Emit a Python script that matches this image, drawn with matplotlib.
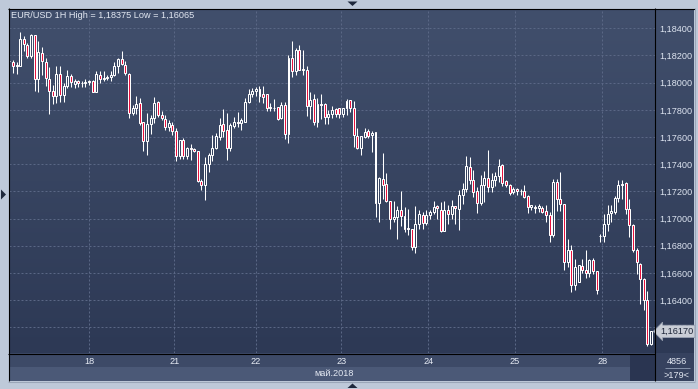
import numpy as np
import matplotlib
matplotlib.use("Agg")
import matplotlib.pyplot as plt
from matplotlib.patches import Rectangle, Polygon
from matplotlib.lines import Line2D
from matplotlib.colors import LinearSegmentedColormap
from matplotlib.ticker import FuncFormatter
import matplotlib.transforms as mtransforms

plt.rcParams["font.family"] = ["Liberation Sans", "DejaVu Sans"]

# EUR/USD hourly candles, 17-28 May 2018, in pips relative to base
base = 1.18
open_pips = [
    15.8, 15.3, 12.5, 12.1, 31.9, 28, 19.5, 34.8, 2.7, 22,
    15.3, 3, -6, -9.6, 6.4, -9, -2.7, 4.7, -1, 1.5,
    -0.5, -0.5, 0.5, 1.5, -6.6, 6, 3, 3.5, 4.2, 6,
    12, 17.3, 13.3, 6.4, -22.5, -18.5, -15, -29, -43, -30.6,
    -25.7, -14.3, -24, -27, -32.3, -31, -35.6, -53.6, -42.2, -53.6,
    -48.4, -49, -50, -72.6, -75.6, -59.5, -53.3, -48.4, -39.8, -30.4,
    -34.8, -48, -31.6, -28.6, -30, -28.6, -14.3, -8.4, -6, -4.7,
    -8.4, -8.4, -18, -18.3, -17.8, -25.7, -16.3, -38, 18.3, 8.4,
    24.4, 9.6, 9.1, -17.5, -11.9, -28.6, -15.8, -15.6, -24.9, -23,
    -19.3, -18.8, -23, -18.8, -12.6, -18.8, -39.3, -47.9, -39.8, -35.6,
    -38.5, -36.5, -88.4, -71, -74.3, -86.7, -100, -99, -94, -97.8,
    -107, -108, -121.2, -104, -97.3, -103, -97.3, -95.3, -90.4, -93.4,
    -109, -93.9, -96.3, -91, -92.6, -82.8, -78.6, -62, -71.8, -79.9,
    -88.5, -75.5, -70, -76.7, -71.3, -68.8, -60.7, -72.5, -75.5, -80.4,
    -78.4, -79.6, -79.6, -83.6, -91.4, -92, -92, -92, -94.6, -97.5,
    -111.8, -73, -85.3, -89.5, -131.9, -123.3, -149, -146.6, -135, -138,
    -140, -130.2, -138.5, -113, -113, -103.7, -95.8, -95.1, -84.5, -75.5,
    -73.7, -92.6, -104.9, -122.8, -133.1, -144.2, -160.1, -192,
]
high_pips = [
    17.5, 16.5, 15, 37.5, 34.3, 29.4, 36, 34.8, 30.6, 26,
    18.3, 11.4, -1.5, 12.6, 12, 0, 9.6, 6.5, 2.7, 2,
    1.5, 3, 1.7, 2, 8.4, 8.4, 8.4, 6, 8.4, 15,
    18.3, 23.2, 16.3, 7, -16.3, -10, -11.4, -29, -22.5, -23.7,
    -10.9, -13.3, -20.7, -23.7, -27.4, -28.6, -33.6, -42.2, -41, -47,
    -45, -48, -50, -70.6, -54.6, -52, -38.5, -37, -26, -19.5,
    -22.5, -30, -25, -21.7, -25.7, -11.4, -4.4, -4, -3, -2.7,
    -2.7, -8.4, -15, -12, -17.8, -14.3, -14.3, 20.7, 31, 25.7,
    27.7, 24.4, 12, -7, -8.4, -11.4, -8.4, -14.6, -20, -17,
    -18.3, -18.3, -18.3, -11.9, -12.6, -13.3, -33.6, -39.3, -33.6, -34,
    -35.6, -36.5, -69.4, -52, -66.4, -86.7, -86.7, -90.4, -80, -91.6,
    -93, -108, -90.4, -94, -95.3, -93.6, -94, -86.7, -90, -87.7,
    -87.2, -90, -86, -91, -79, -74, -54.1, -54.6, -63.9, -76.7,
    -68, -65, -49.7, -66.4, -65.6, -55.8, -60.2, -71.3, -74.2, -76.7,
    -77.2, -78, -75.5, -82.3, -90, -89.7, -89.4, -91, -90.2, -95,
    -70.6, -70.6, -65.6, -89.5, -114.7, -119.6, -129.4, -134, -129.4, -123.3,
    -129.4, -128.7, -138.5, -111, -96.8, -90.2, -90.2, -83.6, -71.3, -71.3,
    -73, -85.3, -104.2, -122, -132.6, -143.4, -153.5, -182.5,
]
low_pips = [
    14.5, 7.3, 6.5, 12.1, 23.2, 18.3, 18.3, -6.4, -7.2, 6,
    -2.2, -23.2, -15.8, -15, -14, -14, -4, -3, -4, -3,
    -3, -3, -2, -6.6, -6.6, 0, 1, 2, 1, 5,
    7, 12.8, 6, -25.7, -23.7, -23, -31, -50, -53, -38,
    -30, -25, -27.4, -34.8, -35.6, -38.5, -57.5, -56, -56, -56,
    -57, -51, -73, -79.3, -86, -65.5, -58, -49, -42, -39.8,
    -57, -50, -33.6, -32.3, -34.8, -28.6, -15, -10.6, -10, -14,
    -15, -20.7, -21, -20.7, -27.2, -26.7, -41.5, -44.2, 4, 6,
    9.6, 5.4, -24.2, -27, -31, -32.3, -27, -30.4, -30.4, -26,
    -25, -25.7, -25, -23.7, -21.7, -47, -48.9, -53, -41, -41,
    -50.9, -99, -102.7, -85.4, -88, -108, -102.7, -115, -105.2, -110,
    -112, -123, -125.4, -108, -108, -105, -100, -96.5, -100, -109.8,
    -109.5, -103.7, -100, -103.7, -108.6, -89, -80.4, -74.2, -84, -95.8,
    -90, -87.7, -80.4, -80.4, -76.2, -73, -76.2, -76.7, -82.8, -82,
    -82.8, -82.3, -84.5, -95.8, -93.9, -95.8, -95, -95.8, -102.5, -117.2,
    -113.5, -94.6, -94.4, -138, -135.6, -154, -152.8, -147, -140, -143.4,
    -143, -140.5, -155.7, -117.2, -117.2, -109, -102.5, -96.3, -87.7, -85.3,
    -96.3, -113.5, -124.5, -140.5, -162.6, -167.5, -193.5, -193,
]
close_pips = [
    16.3, 12.1, 13, 31.9, 28.1, 19.5, 34.8, 2.7, 22.7, 16,
    3.4, -6.4, -9.6, 6.4, -9, -2.7, 4.7, 0.5, 1.5, -0.5,
    -0.3, 0.5, 1, -6.6, 6.4, 3, 3.8, 4, 6, 12,
    17.3, 13.8, 7.2, -22.5, -18.3, -15.6, -30, -43, -30.6, -25.7,
    -15.3, -23.7, -26, -32.3, -29.4, -35.6, -53.6, -42.2, -53.6, -48.4,
    -49, -50, -72.6, -75.6, -59.5, -53.3, -48.4, -39, -31, -35.3,
    -48.4, -31, -28.6, -30, -27.7, -14.3, -8.4, -5.9, -5, -9.6,
    -10.6, -18.8, -18.3, -18.3, -26.7, -16.3, -38, 17.8, 8.4, 23.7,
    9.6, 10, -17.5, -12.6, -28.6, -15.8, -16.3, -24.9, -23, -20,
    -23, -23.2, -18.8, -13.3, -18.8, -38.5, -47.9, -39.3, -36, -39,
    -36.8, -88.4, -70, -75, -86.7, -100.2, -99, -94, -97.8, -108,
    -108, -121.2, -104, -96.8, -103, -97.3, -95.3, -91.6, -92.3, -109,
    -93.4, -96.3, -91, -92, -82.8, -77.9, -61.5, -71.8, -80.4, -88.5,
    -75, -70, -76.7, -71.3, -68.8, -61.5, -73.7, -75.5, -80.9, -78.6,
    -79.6, -80, -84, -91.4, -90, -91.5, -91, -95, -97.5, -111.8,
    -73, -85.3, -89.5, -131.9, -123.3, -149, -135.6, -134.4, -138, -140,
    -130.2, -138.5, -152.8, -112.5, -103.7, -96.3, -94.4, -84.5, -75.5, -74.2,
    -92.6, -104.9, -122.8, -131.9, -144.2, -160.1, -192, -183,
]

day_labels = ["18", "21", "22", "23", "24", "25", "28"]
day_start = [22, 45.5, 68, 91.5, 115.5, 139.5, 163.5]
price_ticks = [1.162, 1.164, 1.166, 1.168, 1.170, 1.172, 1.174, 1.176,
               1.178, 1.180, 1.182, 1.184]
last_price = 1.16170
title = "EUR/USD 1H High = 1,18375 Low = 1,16065"
month_label = "май.2018"
volume_label = "4856"
bars_label = ">179<"

o = base + np.array(open_pips) / 1e4
h = base + np.array(high_pips) / 1e4
l = base + np.array(low_pips) / 1e4
c = base + np.array(close_pips) / 1e4
x = np.arange(len(o))

W, H = 698, 389
fig = plt.figure(figsize=(W / 100, H / 100), dpi=100)
fig.patch.set_facecolor("#bec9d9")


def frac(x0, y0, x1, y1):
    # pixel box (top-left origin) -> figure fraction rect
    return [x0 / W, 1 - y1 / H, (x1 - x0) / W, (y1 - y0) / H]


def fill(x0, y0, x1, y1, color, z=-1):
    l_, b_, w_, h_ = frac(x0, y0, x1, y1)
    fig.add_artist(Rectangle((l_, b_), w_, h_, transform=fig.transFigure,
                             facecolor=color, edgecolor="none", zorder=z))


def line(pts, color="black", lw=0.8, z=5):
    xs = [p[0] / W for p in pts]
    ys = [1 - p[1] / H for p in pts]
    fig.add_artist(Line2D(xs, ys, transform=fig.transFigure, color=color,
                          lw=lw, zorder=z, solid_capstyle="butt"))


def tri(pts, color="#1e283c"):
    fig.add_artist(Polygon([(p[0] / W, 1 - p[1] / H) for p in pts],
                           closed=True, transform=fig.transFigure,
                           facecolor=color, edgecolor="none", zorder=5))


# bottom strips and corner panels
fill(9, 353, 655, 367, "#3d4a67")
fill(9, 367, 630, 381, "#4b5977")
fill(630, 354, 655, 381, "#2a3551")
fill(655, 353, 694, 381, "#36425f")

# gradient background for chart + price scale
bg = fig.add_axes(frac(9, 9, 694, 353))
bg.set_zorder(0)
bg.axis("off")
cmap = LinearSegmentedColormap.from_list("bgrad", ["#414f6c", "#2d3955"])
bg.imshow(np.linspace(0, 1, 256)[:, None], aspect="auto", cmap=cmap,
          extent=(0, 1, 0, 1))

ax = fig.add_axes(frac(9, 9, 655, 353))
ax.set_zorder(1)
ax.set_facecolor("none")
ax.set_xlim(-0.1, 178.1)
ax.set_ylim(1.16011, 1.18542)

ax.set_xticks(day_start)
ax.set_xticklabels(day_labels)
ax.set_yticks(price_ticks)
ax.yaxis.set_major_formatter(FuncFormatter(lambda v, _: f"{v:.5f}".replace(".", ",")))
ax.yaxis.tick_right()
ax.grid(True, color="#5a6785", lw=0.72, linestyle=(0, (2, 2)))
ax.set_axisbelow(True)
ax.tick_params(axis="y", length=0, pad=2.9, labelsize=6.6, labelcolor="#dde4f0")
ax.tick_params(axis="x", length=0, pad=3.2, labelsize=6.6, labelcolor="#e6ebf4")
for s in ax.spines.values():
    s.set_visible(False)

# candles
up = c >= o
body_lo = np.minimum(o, c)
body_hi = np.maximum(o, c)
ax.vlines(x, body_hi, h, color="white", lw=0.75, zorder=3)
ax.vlines(x, l, body_lo, color="white", lw=0.75, zorder=3)
ax.bar(x, body_hi - body_lo, bottom=body_lo, width=0.55,
       color=["none" if u else "#e8123e" for u in up],
       edgecolor="white", linewidth=0.72, zorder=4)

# last price tag
blend = mtransforms.blended_transform_factory(ax.transAxes, ax.transData)
ax.text(1.0 + 5 / 646, last_price, f"{last_price:.5f}".replace(".", ","),
        transform=blend, ha="left", va="center", fontsize=6.6, color="#1d2538",
        clip_on=False, zorder=10,
        bbox=dict(boxstyle="larrow,pad=0.18", facecolor="#c9cdd6",
                  edgecolor="#9aa2b2", linewidth=0.6))

# frame lines
line([(8, 8.5), (694.5, 8.5)])
line([(8.5, 8), (8.5, 381)])
line([(655, 8), (655, 381)])
line([(8, 353.5), (655, 353.5)])
line([(694.5, 8), (694.5, 381)], color="#9aa6b8")
line([(8, 381.5), (694.5, 381.5)], color="#9aa6b8")
line([(665, 367.5), (690, 367.5)], color="#8592aa", lw=0.7)

tri([(347.5, 1.5), (357.5, 1.5), (352.5, 6)])
tri([(347.5, 388), (357.5, 388), (352.5, 383.5)])
tri([(1, 189.5), (1, 199.5), (6, 194.5)])

fig.text(11 / W, 1 - 15 / H, title, ha="left", va="center", fontsize=6.6,
         color="#e3e8f2", zorder=6)
fig.text(334 / W, 1 - 374 / H, month_label, ha="center", va="center",
         fontsize=6.6, color="#e3e8f2", zorder=6)
fig.text(677 / W, 1 - 361 / H, volume_label, ha="center", va="center",
         fontsize=6.6, color="#e3e8f2", zorder=6)
fig.text(676 / W, 1 - 375 / H, bars_label, ha="center", va="center",
         fontsize=6.6, color="#e3e8f2", zorder=6)

fig.savefig("out.png", dpi=100, facecolor=fig.get_facecolor())
